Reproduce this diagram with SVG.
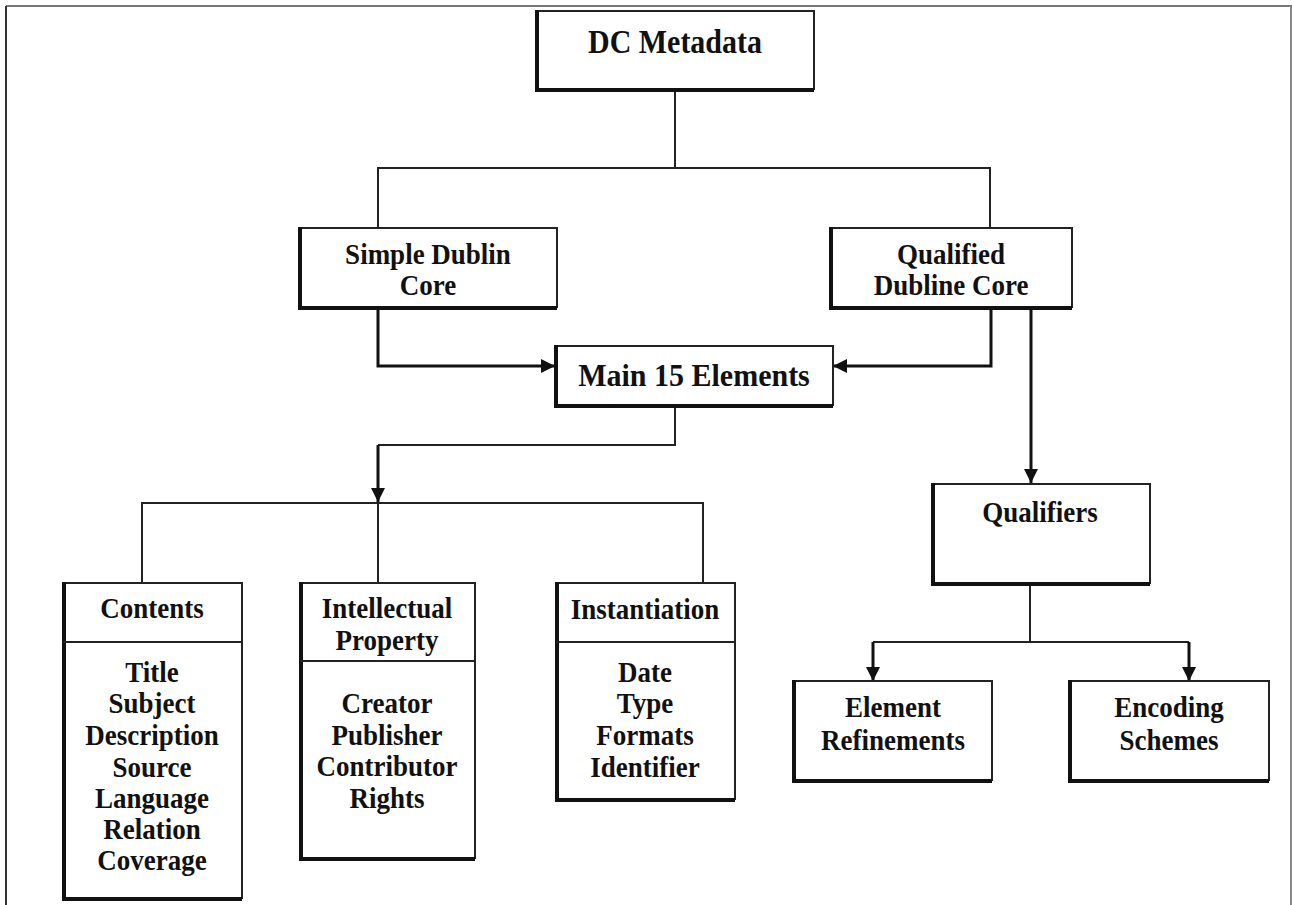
<svg xmlns="http://www.w3.org/2000/svg" width="1292" height="905" viewBox="0 0 1292 905">
<style>
  .box { fill: #fff; stroke: #222; stroke-width: 2; }
  .sh { stroke: #111; stroke-width: 4; fill: none; }
  .t { font-family: "Liberation Serif", "Times New Roman", serif; font-weight: bold; fill: #111; text-anchor: middle; font-size: 27px; }
  .big { font-size: 30px; }
  .ln { stroke: #222; stroke-width: 2; fill: none; }
  .lnb { stroke: #111; stroke-width: 3; fill: none; }
</style>
<defs>
  <marker id="ah" viewBox="0 0 10 10" refX="10" refY="5" markerWidth="14" markerHeight="14" markerUnits="userSpaceOnUse" orient="auto">
    <path d="M0,0 L10,5 L0,10 z" fill="#111"/>
  </marker>
</defs>
<rect x="0" y="0" width="1292" height="905" fill="#fff"/>
<g id="frame">
  <line x1="6" y1="6" x2="1292" y2="6" stroke="#777" stroke-width="2"/>
  <line x1="6" y1="6" x2="6" y2="905" stroke="#333" stroke-width="2"/>
  <line x1="1291" y1="6" x2="1291" y2="905" stroke="#888" stroke-width="2"/>
</g>
<g id="connectors">
  <polyline class="ln" points="675,89 675,168"/>
  <polyline class="ln" points="378,228 378,168 990,168 990,228"/>
  <polyline class="lnb" points="378,307 378,366 555,366" marker-end="url(#ah)"/>
  <polyline class="lnb" points="991,307 991,366 833,366" marker-end="url(#ah)"/>
  <polyline class="ln" points="675,405 675,445 378,445"/>
  <polyline class="lnb" points="378,445 378,502" marker-end="url(#ah)"/>
  <polyline class="ln" points="142,582 142,503 703,503 703,582"/>
  <polyline class="ln" points="378,503 378,582"/>
  <polyline class="lnb" points="1031,307 1031,483" marker-end="url(#ah)"/>
  <polyline class="ln" points="1030,583 1030,642"/>
  <polyline class="ln" points="873,642 1189,642"/>
  <polyline class="lnb" points="873,642 873,681" marker-end="url(#ah)"/>
  <polyline class="lnb" points="1189,642 1189,681" marker-end="url(#ah)"/>
</g>
<g id="dc-metadata">
  <rect class="box" x="536" y="11" width="278" height="78"/>
  <path class="sh" d="M537,10 V90 H814"/>
  <text class="t big" transform="translate(675,53) scale(1,1.1)">DC Metadata</text>
</g>
<g id="simple-dublin-core">
  <rect class="box" x="299" y="228" width="258" height="79"/>
  <path class="sh" d="M300,227 V308 H557"/>
  <text class="t" transform="translate(428,264) scale(1,1.07)">Simple Dublin</text>
  <text class="t" transform="translate(428,295) scale(1,1.07)">Core</text>
</g>
<g id="qualified-dubline-core">
  <rect class="box" x="830" y="228" width="242" height="79"/>
  <path class="sh" d="M831,227 V308 H1072"/>
  <text class="t" transform="translate(951,264) scale(1,1.07)">Qualified</text>
  <text class="t" transform="translate(951,295) scale(1,1.07)">Dubline Core</text>
</g>
<g id="main-15-elements">
  <rect class="box" x="555" y="346" width="278" height="59"/>
  <path class="sh" d="M556,345 V406 H833"/>
  <text class="t big" transform="translate(694,386) scale(1,1.06)">Main 15 Elements</text>
</g>
<g id="contents">
  <rect class="box" x="63" y="583" width="179" height="315"/>
  <path class="sh" d="M64,582 V899 H242"/>
  <line class="ln" x1="63" y1="642" x2="242" y2="642"/>
  <text class="t" transform="translate(152,618) scale(1,1.07)">Contents</text>
  <text class="t" transform="translate(152,682) scale(1,1.07)">Title</text>
  <text class="t" transform="translate(152,713) scale(1,1.07)">Subject</text>
  <text class="t" transform="translate(152,745) scale(1,1.07)">Description</text>
  <text class="t" transform="translate(152,777) scale(1,1.07)">Source</text>
  <text class="t" transform="translate(152,808) scale(1,1.07)">Language</text>
  <text class="t" transform="translate(152,839) scale(1,1.07)">Relation</text>
  <text class="t" transform="translate(152,870) scale(1,1.07)">Coverage</text>
</g>
<g id="intellectual-property">
  <rect class="box" x="300" y="583" width="175" height="275"/>
  <path class="sh" d="M301,582 V859 H475"/>
  <line class="ln" x1="300" y1="661" x2="475" y2="661"/>
  <text class="t" transform="translate(387,618) scale(1,1.07)">Intellectual</text>
  <text class="t" transform="translate(387,650) scale(1,1.07)">Property</text>
  <text class="t" transform="translate(387,713) scale(1,1.07)">Creator</text>
  <text class="t" transform="translate(387,745) scale(1,1.07)">Publisher</text>
  <text class="t" font-size="24" transform="translate(387,776) scale(1,1.1)">Contributor</text>
  <text class="t" transform="translate(387,808) scale(1,1.07)">Rights</text>
</g>
<g id="instantiation">
  <rect class="box" x="556" y="583" width="179" height="216"/>
  <path class="sh" d="M557,582 V800 H735"/>
  <line class="ln" x1="556" y1="642" x2="735" y2="642"/>
  <text class="t" transform="translate(645,619) scale(1,1.07)">Instantiation</text>
  <text class="t" transform="translate(645,682) scale(1,1.07)">Date</text>
  <text class="t" transform="translate(645,713) scale(1,1.07)">Type</text>
  <text class="t" transform="translate(645,745) scale(1,1.07)">Formats</text>
  <text class="t" transform="translate(645,777) scale(1,1.07)">Identifier</text>
</g>
<g id="qualifiers">
  <rect class="box" x="932" y="484" width="218" height="99"/>
  <path class="sh" d="M933,483 V584 H1150"/>
  <text class="t" transform="translate(1040,522) scale(1,1.07)">Qualifiers</text>
</g>
<g id="element-refinements">
  <rect class="box" x="793" y="681" width="199" height="99"/>
  <path class="sh" d="M794,680 V781 H992"/>
  <text class="t" transform="translate(893,717) scale(1,1.07)">Element</text>
  <text class="t" transform="translate(893,750) scale(1,1.07)">Refinements</text>
</g>
<g id="encoding-schemes">
  <rect class="box" x="1069" y="681" width="200" height="99"/>
  <path class="sh" d="M1070,680 V781 H1269"/>
  <text class="t" transform="translate(1169,717) scale(1,1.07)">Encoding</text>
  <text class="t" transform="translate(1169,750) scale(1,1.07)">Schemes</text>
</g>
</svg>
